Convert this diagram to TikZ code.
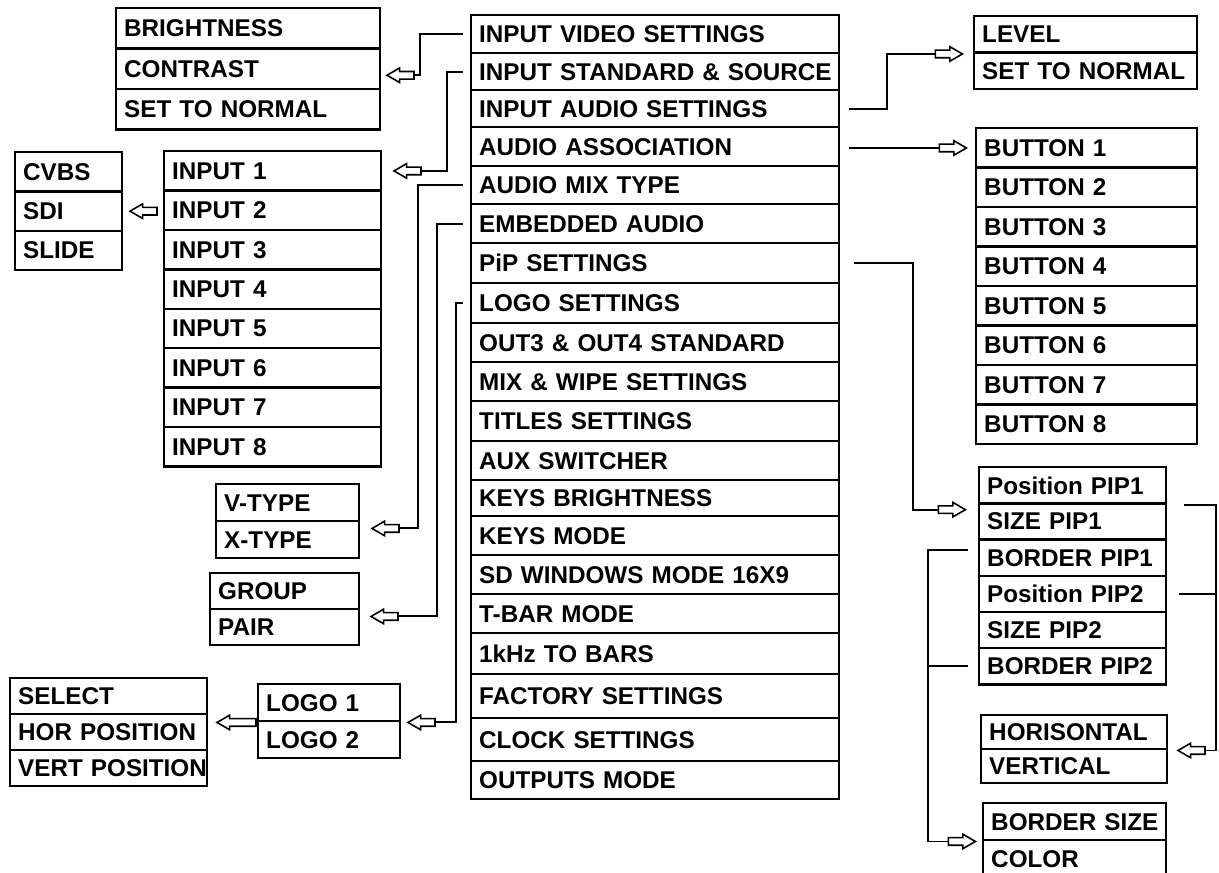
\documentclass[tikz,border=0pt]{standalone}
\usepackage{fontspec}
\setmainfont{Liberation Sans}
\usetikzlibrary{positioning, shapes.arrows}

\newcommand{\menufont}{\fontsize{13.8}{15}\bfseries\selectfont}

\begin{document}
\begin{tikzpicture}[
      x=0.02cm, y=-0.02cm,
      row/.style    = {draw, line width=1.4pt, anchor=north west,
                       inner xsep=0.16cm, inner ysep=0pt,
                       align=left, font=\menufont},
      conn/.style   = {line width=1.1pt},
      harrow/.style = {single arrow, draw, line width=0.9pt, fill=white,
                       inner xsep=0pt, inner ysep=0.06cm,
                       minimum height=0.54cm,
                       single arrow head extend=0.07cm,
                       single arrow tip angle=60},
      larrow/.style = {harrow, shape border rotate=180, anchor=tip},
      rarrow/.style = {harrow, anchor=tip},
    ]
    \path[use as bounding box, clip] (0,0) rectangle (1219,872);

    % Main menu
    \foreach \lbl/\ya/\yb [count=\i] in {INPUT VIDEO SETTINGS/14/52,
        INPUT STANDARD \& SOURCE/52/89, INPUT AUDIO SETTINGS/89/126,
        AUDIO ASSOCIATION/126/165, AUDIO MIX TYPE/165/203,
        EMBEDDED AUDIO/203/242, PiP SETTINGS/242/282, LOGO SETTINGS/282/322,
        OUT3 \& OUT4 STANDARD/322/361, MIX \& WIPE SETTINGS/361/400,
        TITLES SETTINGS/400/440, AUX SWITCHER/440/479,
        KEYS BRIGHTNESS/479/515, KEYS MODE/515/554,
        SD WINDOWS MODE 16X9/554/593, T-BAR MODE/593/632,
        1kHz TO BARS/632/673, FACTORY SETTINGS/673/717,
        CLOCK SETTINGS/717/760, OUTPUTS MODE/760/798}
      \node[row, text width=7.04cm, minimum height={(\yb-\ya)*0.02cm}]
           (m\i) at (470,\ya) {\mbox{\lbl}};

    % Left submenus
    \foreach \lbl [count=\i] in {BRIGHTNESS, CONTRAST, SET TO NORMAL}
      \node[row, text width=4.96cm, minimum height=0.807cm]
           (br\i) at (115, {7+(\i-1)*40.35}) {\mbox{\lbl}};
    \foreach \lbl [count=\i] in {CVBS, SDI, SLIDE}
      \node[row, text width=1.82cm, minimum height=0.786cm]
           (cv\i) at (14, {151+(\i-1)*39.3}) {\mbox{\lbl}};
    \foreach \i in {1,...,8}
      \node[row, text width=4.02cm, minimum height=0.788cm]
           (in\i) at (163, {150+(\i-1)*39.4}) {\mbox{INPUT \i}};
    \foreach \lbl [count=\i] in {V-TYPE, X-TYPE}
      \node[row, text width=2.54cm, minimum height=0.74cm]
           (vt\i) at (215, {483+(\i-1)*37}) {\mbox{\lbl}};
    \foreach \lbl [count=\i] in {GROUP, PAIR}
      \node[row, text width=2.66cm, minimum height=0.72cm]
           (gr\i) at (209, {572+(\i-1)*36}) {\mbox{\lbl}};
    \foreach \lbl [count=\i] in {LOGO 1, LOGO 2}
      \node[row, text width=2.52cm, minimum height=0.74cm]
           (lg\i) at (257, {683+(\i-1)*37}) {\mbox{\lbl}};
    \foreach \lbl [count=\i] in {SELECT, HOR POSITION, VERT POSITION}
      \node[row, text width=3.62cm, minimum height=0.72cm]
           (sel\i) at (9, {677+(\i-1)*36}) {\mbox{\lbl}};

    % Right submenus
    \foreach \lbl [count=\i] in {LEVEL, SET TO NORMAL}
      \node[row, text width=4.14cm, minimum height=0.73cm]
           (lv\i) at (973, {15+(\i-1)*36.5}) {\mbox{\lbl}};
    \foreach \i in {1,...,8}
      \node[row, text width=4.10cm, minimum height=0.79cm]
           (bt\i) at (975, {127+(\i-1)*39.5}) {\mbox{BUTTON \i}};
    \foreach \lbl [count=\i] in {Position PIP1, SIZE PIP1, BORDER PIP1,
                                 Position PIP2, SIZE PIP2, BORDER PIP2}
      \node[row, text width=3.42cm, minimum height=0.724cm]
           (pp\i) at (978, {466+(\i-1)*36.2}) {\mbox{\lbl}};
    \foreach \lbl [count=\i] in {HORISONTAL, VERTICAL}
      \node[row, text width=3.40cm, minimum height=0.68cm]
           (hv\i) at (980, {714+(\i-1)*34}) {\mbox{\lbl}};
    \foreach \lbl [count=\i] in {BORDER SIZE, COLOR}
      \node[row, text width=3.34cm, minimum height=0.74cm]
           (bs\i) at (982, {802+(\i-1)*37}) {\mbox{\lbl}};

    % Hollow arrows
    \node[larrow] (aVid)  at ([xshift=0.08cm, yshift=-0.13cm]br2.east) {};
    \node[larrow] (aStd)  at ([xshift=0.2cm]in1.east) {};
    \node[larrow] (aCv)   at ([xshift=0.1cm]cv2.east) {};
    \node[larrow] (aMix)  at ([xshift=0.2cm, yshift=-0.12cm]vt1.south east) {};
    \node[larrow] (aEmb)  at ([xshift=0.18cm, yshift=-0.12cm]gr1.south east) {};
    \node[larrow] (aLogo) at ([xshift=0.1cm]lg1.south east) {};
    \node[larrow, minimum height=0.78cm] (aSel)
          at ([xshift=0.14cm, yshift=-0.14cm]sel1.south east) {};
    \node[rarrow] (aLev)  at ([xshift=-0.18cm]lv1.south west) {};
    \node[rarrow] (aBut)  at ([xshift=-0.14cm]bt1.west) {};
    \node[rarrow] (aPip)  at ([xshift=-0.22cm, yshift=-0.1cm]pp1.south west) {};
    \node[larrow] (aHor)  at ([xshift=0.16cm]hv1.south east) {};
    \node[rarrow] (aBs)   at ([xshift=-0.1cm]bs1.south west) {};

    % Left connectors
    \draw[conn] ([xshift=-0.14cm]m1.west) -| ([xshift=0.1cm]aVid.tail) -- (aVid.tail);
    \draw[conn] ([xshift=-0.14cm]m2.west) -| ([xshift=0.5cm]aStd.tail) -- (aStd.tail);
    \draw[conn] ([xshift=-0.14cm]m5.west) -| ([xshift=0.36cm]aMix.tail) -- (aMix.tail);
    \draw[conn] ([xshift=-0.14cm]m6.west) -| ([xshift=0.76cm]aEmb.tail) -- (aEmb.tail);
    \draw[conn] ([xshift=-0.14cm]m8.west) -| ([xshift=0.4cm]aLogo.tail) -- (aLogo.tail);

    % Right connectors
    \draw[conn] ([xshift=0.18cm]m3.east) -| ([xshift=-0.96cm]aLev.tail) -- (aLev.tail);
    \draw[conn, shorten <=0.18cm] (m4.east |- aBut.tail) -- (aBut.tail);
    \draw[conn] ([xshift=0.28cm]m7.east) -| ([xshift=-0.5cm]aPip.tail) -- (aPip.tail);

    % PiP connectors
    \draw[conn] ([xshift=0.34cm]pp1.south east) -| ([xshift=0.2cm]aHor.tail) -- (aHor.tail);
    \draw[conn] ([xshift=0.24cm]pp4.east) -| ([xshift=0.2cm]aHor.tail);
    \draw[conn] ([xshift=-0.2cm, yshift=0.16cm]pp3.west) -| ([xshift=-0.4cm]aBs.tail) -- (aBs.tail);
    \draw[conn] ([xshift=-0.2cm]pp6.west) -| ([xshift=-0.4cm]aBs.tail);
  \end{tikzpicture}
\end{document}
